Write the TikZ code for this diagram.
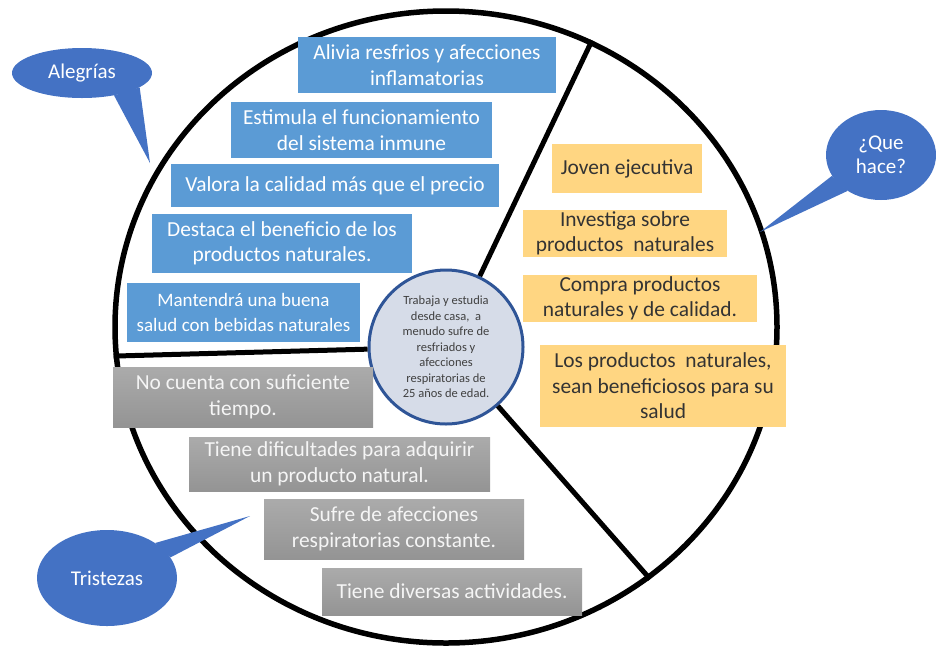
\documentclass[tikz,border=0pt]{standalone}
\usepackage{fontspec}
\setmainfont{Carlito}
\usetikzlibrary{shapes.geometric}
\definecolor{boxblue}{RGB}{91,155,213}
\definecolor{bubbleblue}{RGB}{68,114,196}
\definecolor{boxorange}{RGB}{255,214,130}
\definecolor{hubfill}{RGB}{214,220,232}
\definecolor{hubline}{RGB}{47,85,151}

\begin{document}
\begin{tikzpicture}[x=1pt, y=-1pt,
    boxtext/.style={align=center, inner sep=0pt, font=\fontsize{21.4}{25.5}\selectfont},
    bluebox/.style={boxtext, fill=boxblue, text=white},
    orangebox/.style={boxtext, fill=boxorange, text=black!80},
    greybox/.style={boxtext, top color=black!33, bottom color=black!42, text=black!4},
    bubble/.style={ellipse, fill=bubbleblue, text=white, align=center, inner sep=0pt,
        font=\fontsize{21}{24}\selectfont}]
    \useasboundingbox (0,0) rectangle (936,649);

    % Draw the big circle and the centre
    \node[ellipse, draw, line width=5.5pt, minimum width=662, minimum height=632] (ring) at (446,327) {};
    \node[circle, draw=hubline, line width=3pt, fill=hubfill, minimum size=154, inner sep=0pt,
        align=center, text=black!75, font=\fontsize{12.5}{15.5}\selectfont] (hub) at (446,347)
        {Trabaja y estudia\\desde casa,~ a\\menudo sufre de\\resfriados y\\afecciones\\respiratorias de\\25 años de edad.};

    % Draw the dividers
    \draw[line width=5pt] (ring.185) -- (hub);
    \draw[line width=5pt] (hub) -- (ring.63);
    \draw[line width=5pt] (hub) -- (ring.-51);

    % Alegrias boxes
    \node[bluebox, minimum width=258, minimum height=56] (alivia) at (427,65) {Alivia resfrios y afecciones\\inflamatorias};
    \node[bluebox, minimum width=261, minimum height=56] (estimula) at (361.5,130) {Estimula el funcionamiento\\del sistema inmune};
    \node[bluebox, minimum width=328, minimum height=43] (valora) at (335,185.5) {Valora la calidad más que el precio};
    \node[bluebox, minimum width=260, minimum height=59] (destaca) at (282,243.5) {Destaca el beneficio de los\\productos naturales.};
    \node[bluebox, minimum width=233, minimum height=59, font=\fontsize{19}{25.5}\selectfont] (mantendra) at (243.5,312.5) {Mantendrá una buena\\salud con bebidas naturales};

    % Que hace boxes
    \node[orangebox, minimum width=150, minimum height=49] (joven) at (627,168.5) {Joven ejecutiva};
    \node[orangebox, minimum width=204, minimum height=47] (investiga) at (625,233.5) {Investiga sobre\\productos~ naturales};
    \node[orangebox, minimum width=234, minimum height=47] (compra) at (640,298.5) {Compra productos\\naturales y de calidad.};
    \node[orangebox, minimum width=246, minimum height=82] (beneficio) at (663,386) {Los productos~ naturales,\\sean beneficiosos para su\\salud};

    % Tristezas boxes
    \node[greybox, minimum width=260, minimum height=60] (tiempo) at (243,397) {No cuenta con suficiente\\tiempo.};
    \node[greybox, minimum width=301, minimum height=54] (dificultad) at (339.5,464) {Tiene dificultades para adquirir\\un producto natural.};
    \node[greybox, minimum width=260, minimum height=60] (sufre) at (394,529) {Sufre de afecciones\\respiratorias constante.};
    \node[greybox, minimum width=260, minimum height=47] (actividades) at (452,591.5) {Tiene diversas actividades.};

    % Speech bubbles
    \coordinate (alegriastip) at (150,163);
    \coordinate (quetip) at (760,232);
    \coordinate (tristetip) at (250,516);
    \node[bubble, minimum width=140, minimum height=50] (alegrias) at (82,73) {Alegrías};
    \node[bubble, minimum width=110, minimum height=90] (quehace) at (881,155) {¿Que\\hace?};
    \node[bubble, minimum width=140, minimum height=96] (tristezas) at (107,578) {Tristezas};
    \fill[bubbleblue] (alegrias.-35) -- (alegriastip) -- (alegrias.-14) -- cycle;
    \fill[bubbleblue] (quehace.203) -- (quetip) -- (quehace.227) -- cycle;
    \fill[bubbleblue] (tristezas.36) -- (tristetip) -- (tristezas.18) -- cycle;
\end{tikzpicture}
\end{document}
